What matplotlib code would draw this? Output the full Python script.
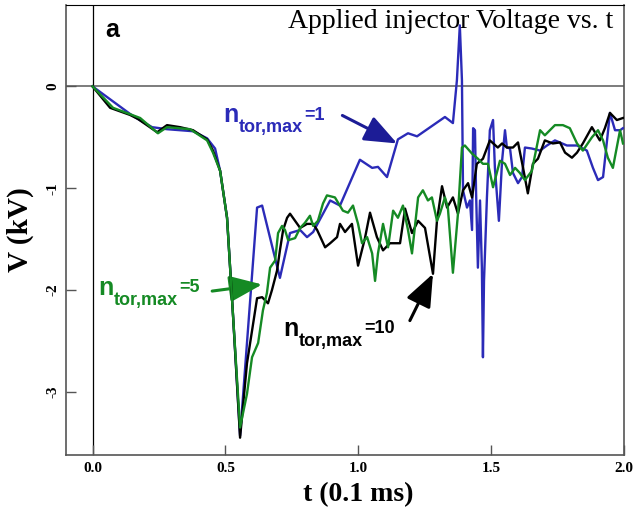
import matplotlib
matplotlib.use('Agg')
import matplotlib.pyplot as plt

# n_tor,max = 10 (black)
t_10 = [0, 0.066, 0.141, 0.171, 0.243, 0.280, 0.329, 0.378, 0.431, 0.453, 0.48, 0.506, 0.529, 0.555,
        0.581, 0.600, 0.619, 0.638, 0.649, 0.660, 0.675, 0.694, 0.705, 0.717, 0.732, 0.743, 0.762,
        0.781, 0.807, 0.830, 0.845, 0.875, 0.894, 0.920, 0.931, 0.950, 0.976, 0.999, 1.025, 1.044,
        1.070, 1.093, 1.119, 1.157, 1.176, 1.202, 1.225, 1.251, 1.281, 1.296, 1.315, 1.334, 1.356,
        1.375, 1.394, 1.413, 1.428, 1.446, 1.469, 1.495, 1.525, 1.541, 1.559, 1.582, 1.601, 1.620,
        1.638, 1.657, 1.676, 1.702, 1.732, 1.759, 1.778, 1.804, 1.823, 1.845, 1.879, 1.909, 1.928,
        1.947, 1.973, 1.996]
v_10 = [0, -0.21, -0.28, -0.32, -0.45, -0.38, -0.40, -0.43, -0.52, -0.63, -0.83, -1.29, -2.27, -3.45,
        -2.72, -2.40, -2.08, -2.07, -2.10, -2.13, -2.00, -1.81, -1.61, -1.41, -1.29, -1.25, -1.32,
        -1.39, -1.35, -1.35, -1.41, -1.58, -1.54, -1.48, -1.35, -1.43, -1.35, -1.76, -1.49, -1.24,
        -1.48, -1.61, -1.54, -1.54, -1.20, -1.44, -1.32, -1.39, -1.84, -1.32, -0.98, -1.19, -1.09,
        -1.25, -1.02, -0.95, -1.09, -0.76, -0.71, -0.53, -0.60, -0.56, -0.60, -0.60, -0.55, -0.80,
        -1.05, -0.76, -0.71, -0.53, -0.56, -0.55, -0.65, -0.70, -0.65, -0.56, -0.40, -0.53, -0.41,
        -0.26, -0.33, -0.31]

# n_tor,max = 1 (blue)
t_1 = [0, 0.141, 0.171, 0.224, 0.280, 0.378, 0.431, 0.461, 0.48, 0.506, 0.529, 0.555, 0.619, 0.638,
       0.705, 0.743, 0.781, 0.807, 0.830, 0.894, 0.931, 1.006, 1.052, 1.074, 1.108, 1.149, 1.187,
       1.221, 1.326, 1.356, 1.371, 1.382, 1.390, 1.394, 1.409, 1.420, 1.428, 1.432, 1.439, 1.443,
       1.450, 1.458, 1.465, 1.469, 1.473, 1.484, 1.495, 1.507, 1.514, 1.529, 1.541, 1.552, 1.559,
       1.571, 1.582, 1.601, 1.616, 1.627, 1.653, 1.684, 1.710, 1.740, 1.785, 1.823, 1.860, 1.883,
       1.902, 1.921, 1.936, 1.947, 1.966, 1.985, 1.996]
v_1 = [0, -0.27, -0.32, -0.40, -0.42, -0.44, -0.51, -0.61, -0.83, -1.29, -2.27, -3.43, -1.19, -1.17,
       -1.88, -1.44, -1.41, -1.48, -1.43, -1.12, -1.17, -0.72, -0.80, -0.79, -0.89, -0.52, -0.46,
       -0.49, -0.30, -0.36, 0.06, 0.60, 0.06, -1.02, -1.19, -1.12, -1.41, -0.41, -0.43, -1.02,
       -1.78, -1.12, -1.78, -2.66, -1.91, -1.09, -0.43, -0.33, -0.80, -1.32, -0.73, -0.43, -0.60,
       -0.61, -0.85, -0.95, -0.89, -0.60, -0.61, -0.63, -0.58, -0.53, -0.58, -0.58, -0.63, -0.80,
       -0.92, -0.89, -0.53, -0.26, -0.43, -0.43, -0.41]

# n_tor,max = 5 (green)
t_5 = [0, 0.077, 0.179, 0.246, 0.280, 0.367, 0.431, 0.453, 0.48, 0.506, 0.529, 0.555, 0.581, 0.600,
       0.623, 0.641, 0.656, 0.668, 0.687, 0.698, 0.713, 0.724, 0.736, 0.762, 0.781, 0.799, 0.818,
       0.830, 0.848, 0.867, 0.882, 0.912, 0.942, 0.961, 0.980, 0.999, 1.014, 1.033, 1.052, 1.063,
       1.074, 1.093, 1.112, 1.131, 1.149, 1.168, 1.187, 1.202, 1.225, 1.243, 1.262, 1.277, 1.296,
       1.307, 1.326, 1.337, 1.356, 1.375, 1.390, 1.401, 1.428, 1.450, 1.469, 1.488, 1.507, 1.533,
       1.552, 1.571, 1.590, 1.608, 1.627, 1.653, 1.684, 1.702, 1.740, 1.770, 1.796, 1.823, 1.845,
       1.879, 1.902, 1.921, 1.939, 1.958, 1.985, 1.996]
v_5 = [0, -0.21, -0.31, -0.46, -0.40, -0.42, -0.53, -0.65, -0.83, -1.29, -2.27, -3.35, -3.02, -2.66,
       -2.52, -2.20, -2.03, -1.78, -1.71, -1.44, -1.37, -1.41, -1.51, -1.49, -1.39, -1.34, -1.27,
       -1.37, -1.32, -1.15, -1.07, -1.09, -1.22, -1.24, -1.17, -1.35, -1.54, -1.48, -1.64, -1.91,
       -1.64, -1.35, -1.58, -1.22, -1.29, -1.17, -1.41, -1.64, -1.09, -1.02, -1.12, -1.09, -1.32,
       -1.25, -1.09, -1.19, -1.83, -1.25, -0.60, -0.58, -0.66, -0.71, -0.76, -0.76, -0.99, -0.73,
       -0.76, -0.87, -0.80, -0.85, -0.92, -0.83, -0.43, -0.48, -0.38, -0.38, -0.41, -0.56, -0.63,
       -0.50, -0.43, -0.53, -0.70, -0.80, -0.43, -0.56]

xticks = [0.0, 0.5, 1.0, 1.5, 2.0]
xticklabels = ['0.0', '0.5', '1.0', '1.5', '2.0']
yticks = [0, -1, -2, -3]
yticklabels = ['0', '-1', '-2', '-3']

blue = '#2b2bb8'
green = '#158a24'


def n_label(ax, x, y, val, color):
    # "n" with a lowered "tor,max" and a small "=val" back on the baseline
    t1 = ax.text(x, y, 'n', color=color, fontsize=18, fontweight='bold',
                 family='Liberation Sans', va='baseline')
    t2 = ax.annotate('tor,max', xy=(1, 0), xycoords=t1, xytext=(0.5, -3.5),
                     textcoords='offset points', color=color, fontsize=13, fontweight='bold',
                     family='Liberation Sans', va='baseline')
    ax.annotate('=' + val, xy=(1, 0), xycoords=t2, xytext=(0.5, 12.0),
                textcoords='offset points', color=color, fontsize=13, fontweight='bold',
                family='Liberation Sans', va='baseline')


fig = plt.figure(figsize=(6.36, 5.19), dpi=100)
ax = fig.add_axes([0.1038, 0.1233, 0.8774, 0.8671])

ax.axhline(0, color='#666666', lw=1.2, zorder=1)
ax.axvline(0, color='black', lw=0.9, zorder=1)

ax.plot(t_1, v_1, color=blue, lw=1.7, zorder=3)
ax.plot(t_10, v_10, color='black', lw=1.7, zorder=4)
ax.plot(t_5, v_5, color=green, lw=1.7, zorder=5)

ax.set_xlim(-0.1, 2.0)
ax.set_ylim(-3.62, 0.8)
ax.set_xticks(xticks)
ax.set_xticklabels(xticklabels)
ax.set_yticks(yticks)
ax.set_yticklabels(yticklabels, rotation=90, va='center')
ax.tick_params(direction='in', length=7, width=1, color='#555555', labelsize=11, pad=5)
for lab in ax.get_xticklabels() + ax.get_yticklabels():
    lab.set_fontweight('bold')
    lab.set_family('Liberation Serif')
for s in ['left', 'bottom', 'right']:
    ax.spines[s].set_color('#555555')
    ax.spines[s].set_linewidth(1.2)
ax.spines['top'].set_color('black')

ax.set_xlabel('t (0.1 ms)', family='Liberation Serif', fontweight='bold', fontsize=20)
ax.set_ylabel('V (kV)', family='Liberation Serif', fontweight='bold', fontsize=21)
ax.xaxis.set_label_coords(0.523, -0.061)
ax.yaxis.set_label_coords(-0.058, 0.5)

ax.text(0.070, 0.929, 'a', transform=ax.transAxes, family='Liberation Sans', fontweight='bold',
        fontsize=18, va='baseline')
ax.text(0.980, 0.949, 'Applied injector Voltage vs. t', transform=ax.transAxes,
        family='Liberation Serif', fontsize=20, ha='right', va='baseline')

n_label(ax, 0.491, -0.354, '1', blue)
n_label(ax, 0.021, -2.05, '5', green)
n_label(ax, 0.717, -2.45, '10', 'black')

aprops = dict(arrowstyle='-|>,head_length=1.0,head_width=0.4', mutation_scale=20, lw=2.2,
              shrinkA=0, shrinkB=0)
ax.annotate('', xy=(1.146, -0.56), xytext=(0.940, -0.285),
            arrowprops=dict(aprops, color='#1c1c96'))
ax.annotate('', xy=(0.638, -1.945), xytext=(0.450, -2.01),
            arrowprops=dict(aprops, color=green))
ax.annotate('', xy=(1.281, -1.84), xytext=(1.194, -2.30),
            arrowprops=dict(aprops, color='black'))

fig.savefig('out.png', dpi=100)
